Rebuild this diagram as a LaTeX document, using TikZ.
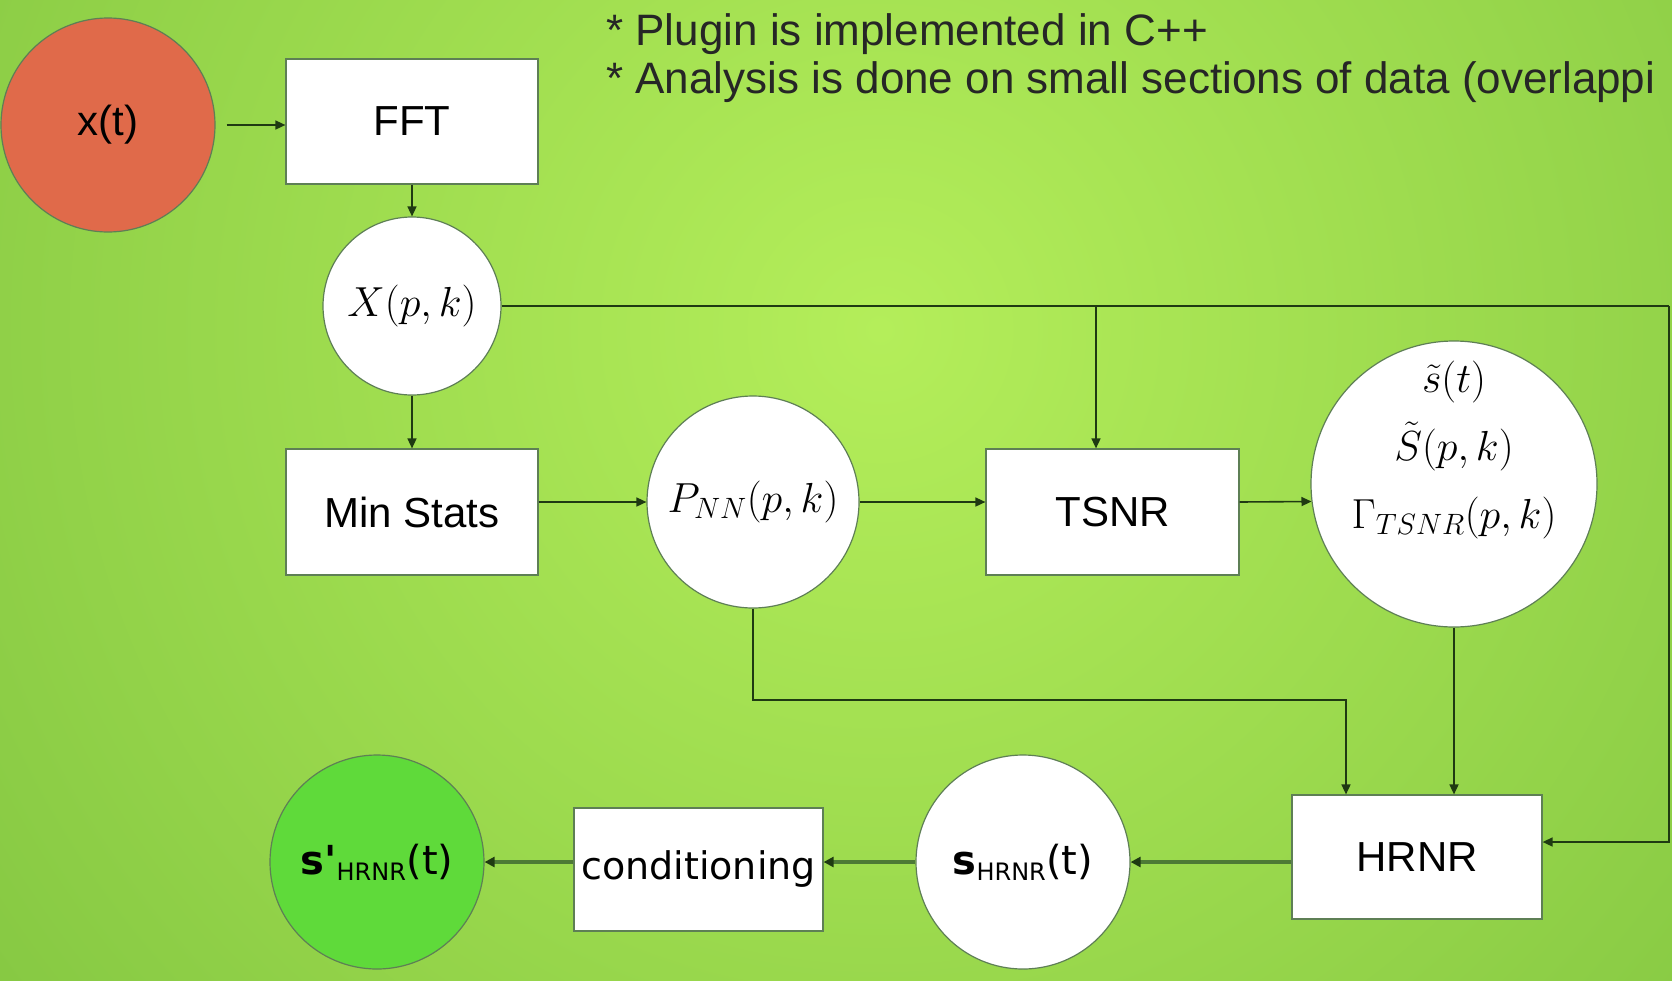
\RequirePackage{fix-cm}
\documentclass[tikz,border=0pt]{standalone}
\usepackage[no-math]{fontspec}
\setmainfont{Liberation Sans}
\newfontfamily\djv{DejaVu Sans}
\usetikzlibrary{arrows.meta}
\definecolor{bgin}{HTML}{B4EE5A}
\definecolor{bgout}{HTML}{55A02A}
\definecolor{nodeborder}{HTML}{5E7F55}
\definecolor{linecol}{HTML}{1F3A12}
\definecolor{thickcol}{HTML}{4D7A35}
\definecolor{redfill}{HTML}{E06A4A}
\definecolor{greenfill}{HTML}{5FDA3A}
\tikzset{
  box/.style={draw=nodeborder, line width=1.2pt, fill=white, inner sep=0pt, font=\fontsize{42}{48}\selectfont},
  circ/.style={circle, draw=nodeborder, line width=1.2pt, fill=white, inner sep=0pt, font=\fontsize{42}{48}\selectfont},
  arr/.style={draw=linecol, line width=1.6pt, -{Triangle[length=10pt,width=9pt]}},
  thickarr/.style={draw=thickcol, line width=4pt, -{Triangle[length=10pt,width=10pt,color=linecol]}},
  toptext/.style={anchor=base west, inner sep=0pt, font=\fontsize{44}{48}\selectfont, text=black!85},
}
\begin{document}
\begin{tikzpicture}[x=1pt,y=-1pt]
\useasboundingbox (0,0) rectangle (1672,980);
\begin{scope}
\clip (0,0) rectangle (1672,980);
\shade[inner color=bgin, outer color=bgout] (880,330) circle (2300);
\end{scope}

\node[toptext] (t1) at (606,45) {* Plugin is implemented in C++};
\node[toptext] (t2) at (606,93) {* Analysis is done on small sections of data (overlappi};

\node[circ, fill=redfill, minimum size=214pt] (xt) at (108,125) {x(t)};
\node[box, minimum width=252pt, minimum height=125pt] (fft) at (412,121.5) {FFT};
\node[circ, minimum size=178pt] (X) at (412,306) {$X(p,k)$};
\node[box, minimum width=252pt, minimum height=126pt] (ms) at (412,512) {Min Stats};
\node[circ, minimum size=212pt] (pnn) at (753,502) {$P_{NN}(p,k)$};
\node[box, minimum width=253pt, minimum height=126pt] (tsnr) at (1112.5,512) {TSNR};
\node[circ, minimum size=286pt] (tilde) at (1454,484) {};
\node[inner sep=0pt, align=center, font=\fontsize{42}{68}\selectfont] (tltext) at (1454,450)
  {$\tilde{s}(t)$\\$\tilde{S}(p,k)$\\$\Gamma_{TSNR}(p,k)$};
\node[box, minimum width=250pt, minimum height=124pt] (hrnr) at (1417,857) {HRNR};
\node[circ, minimum size=214pt, font=\djv\fontsize{40}{48}\selectfont] (shr) at (1023,862) {\textbf{s}\textsubscript{\fontsize{24}{24}\selectfont HRNR}(t)};
\node[box, minimum width=249pt, minimum height=123pt, font=\djv\fontsize{38}{48}\selectfont] (cond) at (698.5,869.5) {conditioning};
\node[circ, fill=greenfill, minimum size=214pt, font=\djv\fontsize{40}{48}\selectfont] (sp) at (377,862) {\textbf{s'}\textsubscript{\fontsize{24}{24}\selectfont HRNR}(t)};

\coordinate (R1) at (1669,306);
\coordinate (R2) at (1669,842);
\coordinate (B) at (1096,306);
\coordinate (P1) at (753,700);
\coordinate (P2) at (1346,700);

\draw[arr] ([xshift=11pt]xt.east) -- (xt.east -| fft.west);
\draw[arr] (fft.south) -- (X.north);
\draw[arr] (X.south) -- (ms.north);
\draw[draw=linecol, line width=1.6pt] (X.east) -- (R1);
\draw[arr] (R1) -- (R2) -- (R2 -| hrnr.east);
\draw[arr] (B) -- (B |- tsnr.north);
\draw[arr] (ms.east |- pnn.west) -- (pnn.west);
\draw[arr] (pnn.east) -- (pnn.east -| tsnr.west);
\draw[arr] (tsnr.east |- pnn.east) -- (tilde.187.2);
\draw[arr] (pnn.south) -- (P1) -- (P2) -- (P2 |- hrnr.north);
\draw[arr] (tilde.south) -- (tilde.south |- hrnr.north);
\draw[thickarr] (hrnr.west |- shr.east) -- (shr.east);
\draw[thickarr] (shr.west) -- (shr.west -| cond.east);
\draw[thickarr] (cond.west |- sp.east) -- (sp.east);
\end{tikzpicture}
\end{document}
